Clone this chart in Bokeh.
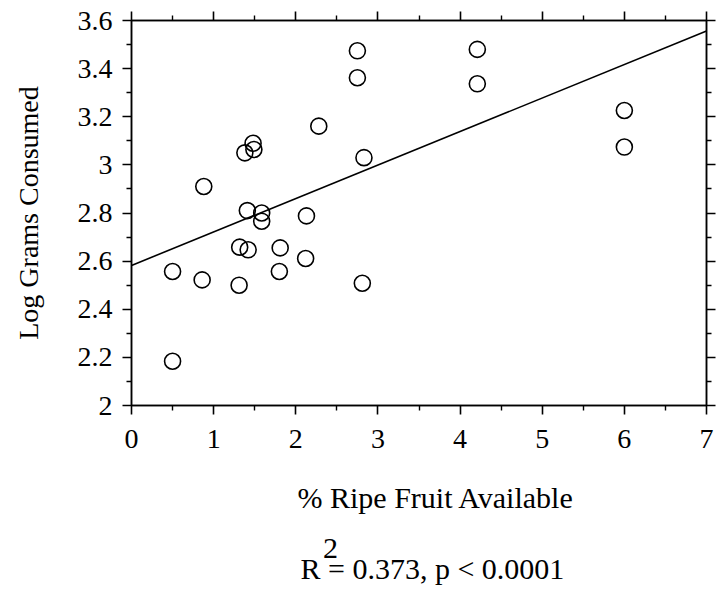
from bokeh.plotting import figure
from bokeh.models import LinearAxis, FixedTicker, Range1d, Title, CustomLabelingPolicy
from bokeh.embed import file_html
from bokeh.resources import INLINE

# ---- data ----
ripe_fruit = [2.75, 2.75, 2.28, 1.48, 1.49, 1.38, 2.83, 0.88, 1.41, 1.585,
              1.585, 2.13, 1.317, 1.42, 1.81, 2.12, 0.50, 1.80, 0.86, 1.31,
              2.81, 0.50, 4.21, 4.21, 6.0, 6.0]
log_grams = [3.474, 3.362, 3.161, 3.09, 3.064, 3.05, 3.03, 2.91, 2.81, 2.80,
             2.766, 2.788, 2.658, 2.647, 2.655, 2.611, 2.557, 2.557, 2.522, 2.50,
             2.508, 2.184, 3.48, 3.337, 3.226, 3.074]
fit_x = [0, 7]
fit_y = [2.582, 3.556]

x_ticks = [0, 1, 2, 3, 4, 5, 6, 7]
x_minor = [0.5, 1.5, 2.5, 3.5, 4.5, 5.5, 6.5]
y_ticks = [2, 2.2, 2.4, 2.6, 2.8, 3, 3.2, 3.4, 3.6]
y_tick_labels = ["2", "2.2", "2.4", "2.6", "2.8", "3", "3.2", "3.4", "3.6"]
y_minor = [2.1, 2.3, 2.5, 2.7, 2.9, 3.1, 3.3, 3.5]

x_title = "% Ripe Fruit Available"
y_title = "Log Grams Consumed"
stat_text = "\u00a0\u00a0\u00a02\nR = 0.373, p < 0.0001"

FONT = "Liberation Serif"
FS = "28px"
FS_BIG = "30px"

p = figure(width=716, height=592, output_backend="svg", toolbar_location=None,
           x_range=Range1d(0, 7), y_range=Range1d(2, 3.6),
           x_axis_location=None, y_axis_location=None,
           min_border_left=131, min_border_right=10, min_border_top=20,
           min_border_bottom=187)
p.xgrid.visible = False
p.ygrid.visible = False
p.outline_line_color = "black"
p.outline_line_width = 1.5
p.background_fill_color = "white"
p.border_fill_color = "white"


def style(ax):
    ax.axis_line_color = "black"
    ax.axis_line_width = 1.5
    ax.major_tick_line_color = "black"
    ax.minor_tick_line_color = "black"
    ax.major_tick_line_width = 1.6
    ax.minor_tick_line_width = 1.4
    ax.major_tick_in = 0
    ax.major_tick_out = 9
    ax.minor_tick_in = 0
    ax.minor_tick_out = 5
    ax.major_label_text_font = FONT
    ax.axis_label_text_font = FONT
    ax.axis_label_text_font_style = "normal"
    ax.major_label_text_color = "black"
    ax.axis_label_text_color = "black"
    ax.major_label_text_font_size = FS
    ax.axis_label_text_font_size = FS


hide = "if (false) { yield 0 }"

xb = LinearAxis(ticker=FixedTicker(ticks=x_ticks, minor_ticks=x_minor))
style(xb)
xb.major_label_standoff = 15
p.add_layout(xb, "below")

xt = LinearAxis(ticker=FixedTicker(ticks=x_ticks, minor_ticks=x_minor),
                major_label_policy=CustomLabelingPolicy(code=hide))
style(xt)
xt.major_label_text_font_size = "0px"
xt.major_label_standoff = 0
p.add_layout(xt, "above")

yl = LinearAxis(ticker=FixedTicker(ticks=y_ticks, minor_ticks=y_minor), axis_label=y_title,
                major_label_overrides={t: l for t, l in zip(y_ticks, y_tick_labels)})
style(yl)
yl.major_label_standoff = 10
yl.axis_label_standoff = 31
p.add_layout(yl, "left")

yr = LinearAxis(ticker=FixedTicker(ticks=y_ticks, minor_ticks=y_minor),
                major_label_policy=CustomLabelingPolicy(code=hide))
style(yr)
yr.major_label_text_font_size = "0px"
yr.major_label_standoff = 0
p.add_layout(yr, "right")

p.add_layout(Title(text=x_title, align="left", offset=166, standoff=57,
                   text_font=FONT, text_font_size=FS_BIG, text_font_style="normal",
                   text_color="black"), "below")
p.add_layout(Title(text=stat_text, align="left", offset=169, standoff=-26,
                   text_font=FONT, text_font_size=FS_BIG, text_font_style="normal",
                   text_color="black", text_line_height=0.65), "below")

p.line(fit_x, fit_y, line_color="black", line_width=1.6)
p.scatter(ripe_fruit, log_grams, marker="circle", size=16, fill_color=None,
          line_color="black", line_width=1.6)

open("out.html", "w").write(file_html(p, INLINE))
